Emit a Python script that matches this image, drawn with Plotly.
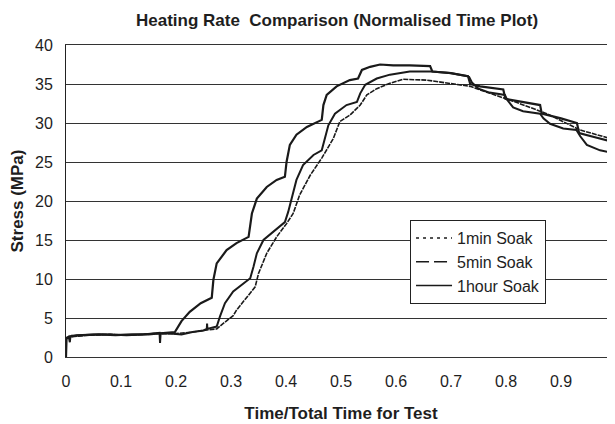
import plotly.graph_objects as go

# ---------------- data ----------------
x_1hour = [0, 0.001, 0.01, 0.03, 0.06, 0.09, 0.12, 0.15, 0.17, 0.19, 0.198, 0.21, 0.225, 0.245,
           0.265, 0.268, 0.274, 0.292, 0.31, 0.332, 0.335, 0.338, 0.347, 0.365, 0.383, 0.398,
           0.401, 0.407, 0.419, 0.438, 0.465, 0.468, 0.474, 0.492, 0.516, 0.531, 0.538, 0.553,
           0.571, 0.595, 0.625, 0.662, 0.666, 0.70, 0.731, 0.735, 0.753, 0.795, 0.799, 0.83,
           0.862, 0.865, 0.90, 0.929, 0.933, 0.96, 1.0]
y_1hour = [0, 2.4, 2.7, 2.8, 2.9, 2.8, 2.9, 2.9, 3.0, 3.1, 3.2, 4.6, 5.8, 6.9,
           7.6, 9.9, 12.0, 13.7, 14.6, 15.4, 16.7, 18.4, 20.3, 21.8, 22.7, 23.1,
           25.0, 27.2, 28.5, 29.5, 30.4, 32.3, 33.6, 34.7, 35.5, 35.7, 36.8, 37.2,
           37.5, 37.4, 37.4, 37.3, 36.6, 36.4, 36.0, 35.0, 34.7, 34.3, 33.1, 32.7,
           32.3, 31.2, 30.6, 30.0, 28.7, 28.2, 27.5]

x_5min = [0, 0.005, 0.007, 0.008, 0.02, 0.05, 0.08, 0.11, 0.14, 0.16, 0.170, 0.171, 0.172,
          0.19, 0.21, 0.23, 0.25, 0.256, 0.2565, 0.257, 0.262, 0.274, 0.28, 0.289, 0.304,
          0.322, 0.335, 0.341, 0.347, 0.359, 0.383, 0.398, 0.404, 0.41, 0.419, 0.431, 0.45,
          0.465, 0.471, 0.477, 0.489, 0.51, 0.529, 0.535, 0.544, 0.565, 0.589, 0.625, 0.665,
          0.698, 0.73, 0.733, 0.738, 0.75, 0.77, 0.798, 0.802, 0.813, 0.831, 0.862, 0.868,
          0.88, 0.904, 0.928, 0.935, 0.947, 0.971, 0.985, 1.0]
y_5min = [2.3, 2.6, 1.9, 2.6, 2.8, 2.9, 2.9, 2.8, 2.9, 3.0, 3.1, 1.8, 3.0,
          3.0, 2.9, 3.2, 3.4, 3.6, 4.3, 3.6, 3.7, 3.9, 5.2, 6.9, 8.4,
          9.4, 10.1, 11.6, 13.3, 15.0, 16.4, 17.3, 18.6, 20.3, 22.7, 24.6, 25.9,
          26.5, 28.0, 29.7, 31.2, 32.3, 32.7, 33.8, 34.9, 35.7, 36.2, 36.6, 36.6,
          36.4, 36.0, 35.9, 35.2, 34.4, 33.9, 33.6, 33.0, 32.0, 31.5, 31.2, 30.6,
          29.9, 29.3, 29.1, 28.3, 27.2, 26.5, 26.3, 26.4]

x_1min = [0, 0.01, 0.04, 0.08, 0.12, 0.16, 0.2, 0.23, 0.26, 0.274, 0.286, 0.304, 0.31,
          0.325, 0.329, 0.344, 0.35, 0.365, 0.383, 0.401, 0.413, 0.422, 0.425, 0.444,
          0.465, 0.486, 0.498, 0.516, 0.535, 0.547, 0.565, 0.589, 0.613, 0.656, 0.698,
          0.735, 0.771, 0.813, 0.874, 0.935, 1.0]
y_1min = [2.5, 2.6, 2.8, 2.9, 2.8, 3.0, 3.0, 3.2, 3.5, 3.6, 4.3, 5.3, 6.0,
          7.3, 7.6, 9.0, 10.7, 13.3, 15.4, 17.1, 18.4, 20.1, 20.8, 23.3,
          25.5, 28.0, 30.2, 31.0, 32.3, 33.6, 34.4, 35.1, 35.6, 35.5, 35.1,
          34.7, 33.8, 32.8, 31.2, 29.1, 27.8]

series_names = ["1min Soak", "5min Soak", "1hour Soak"]
x_ticks = [0, 0.1, 0.2, 0.3, 0.4, 0.5, 0.6, 0.7, 0.8, 0.9, 1.0]
x_ticktext = ["0", "0.1", "0.2", "0.3", "0.4", "0.5", "0.6", "0.7", "0.8", "0.9", "1"]
y_ticks = [0, 5, 10, 15, 20, 25, 30, 35, 40]

# ---------------- figure ----------------
LINE = "#1a1a1a"
TXT = "#1e1e1e"
FONT = "Arial, 'Liberation Sans', sans-serif"

fig = go.Figure()

# plotted curves
fig.add_trace(go.Scatter(x=x_1min, y=y_1min, mode="lines", showlegend=False,
                         line=dict(color=LINE, width=1.6, dash="5px,1px")))
fig.add_trace(go.Scatter(x=x_5min, y=y_5min, mode="lines", showlegend=False,
                         line=dict(color=LINE, width=2)))
fig.add_trace(go.Scatter(x=x_1hour, y=y_1hour, mode="lines", showlegend=False,
                         line=dict(color=LINE, width=2.2)))

# legend entries
legend_dash = ["3px,4px", "13px,5px", "solid"]
for name, d in zip(series_names, legend_dash):
    fig.add_trace(go.Scatter(x=[None], y=[None], mode="lines", name=name,
                             line=dict(color=LINE, width=1.6, dash=d)))

fig.update_layout(
    width=615, height=424,
    margin=dict(l=58, r=7, t=37, b=75),
    paper_bgcolor="white", plot_bgcolor="white",
    font=dict(family=FONT, size=16, color=TXT),
    title=dict(text="<b>Heating Rate\u00a0 Comparison (Normalised Time Plot)</b>",
               x=0.535, xanchor="center", y=0.972, yanchor="middle",
               font=dict(size=17, color=TXT)),
    showlegend=True,
    legend=dict(x=0.6255, y=0.439, xanchor="left", yanchor="top",
                bgcolor="white", bordercolor="#222", borderwidth=1,
                font=dict(size=16, color=TXT), itemwidth=36, tracegroupgap=0),
)

fig.update_xaxes(range=[0, 1], tickvals=x_ticks, ticktext=x_ticktext,
                 showgrid=False, zeroline=False, showline=True, mirror=True,
                 linecolor="#333", linewidth=1, ticks="", ticklabelstandoff=10,
                 tickfont=dict(size=16, color=TXT), automargin=False,
                 title=dict(text="<b>Time/Total Time for Test</b>", standoff=17,
                            font=dict(size=17, color=TXT)))
fig.update_yaxes(range=[0, 40], tickvals=y_ticks,
                 showgrid=True, gridcolor="#333", gridwidth=1, zeroline=False,
                 showline=True, linecolor="#222", linewidth=1, ticks="",
                 ticklabelstandoff=9, tickfont=dict(size=16, color=TXT),
                 automargin=False,
                 title=dict(text="<b>Stress (MPa)</b>", standoff=8,
                            font=dict(size=17, color=TXT)))

fig.write_html("out.html")
